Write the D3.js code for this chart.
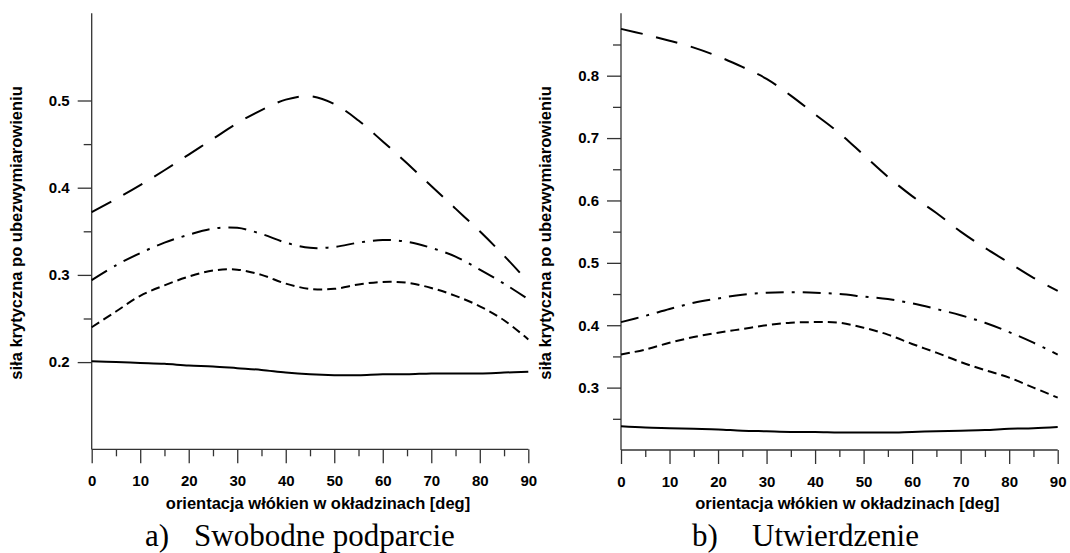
<!DOCTYPE html>
<html>
<head>
<meta charset="utf-8">
<script src="https://cdn.jsdelivr.net/npm/d3@7"></script>
<style>
  body { margin: 0; background: #fff; }
  text { font-family: "Liberation Sans", Arial, sans-serif; font-weight: bold; fill: #000; }
  .title { font-family: "Liberation Serif", "Times New Roman", serif; font-weight: normal; }
</style>
</head>
<body>
<svg id="chart" width="1070" height="553"></svg>
<script>
// fibre orientation [deg]
var angles = [0, 5, 10, 15, 20, 25, 30, 35, 40, 45, 50, 55, 60, 65, 70, 75, 80, 85, 90];

// a) Swobodne podparcie
var freeLong    = [0.372, 0.387, 0.403, 0.420, 0.438, 0.456, 0.474, 0.489, 0.501, 0.505, 0.496, 0.477, 0.453, 0.428, 0.402, 0.376, 0.350, 0.322, 0.292];
var freeDashDot = [0.294, 0.311, 0.325, 0.337, 0.346, 0.353, 0.354, 0.347, 0.337, 0.331, 0.332, 0.337, 0.340, 0.338, 0.331, 0.321, 0.306, 0.290, 0.272];
var freeShort   = [0.240, 0.258, 0.276, 0.288, 0.298, 0.305, 0.306, 0.300, 0.290, 0.284, 0.284, 0.289, 0.292, 0.291, 0.285, 0.276, 0.264, 0.248, 0.226];
var freeSolid   = [0.201, 0.200, 0.199, 0.198, 0.196, 0.195, 0.193, 0.191, 0.188, 0.186, 0.185, 0.185, 0.186, 0.186, 0.187, 0.187, 0.187, 0.188, 0.189];

// b) Utwierdzenie
var fixLong    = [0.875, 0.866, 0.856, 0.845, 0.831, 0.814, 0.795, 0.768, 0.738, 0.708, 0.673, 0.638, 0.607, 0.580, 0.550, 0.524, 0.500, 0.476, 0.455];
var fixDashDot = [0.405, 0.415, 0.426, 0.436, 0.443, 0.449, 0.452, 0.453, 0.452, 0.450, 0.446, 0.442, 0.435, 0.426, 0.416, 0.404, 0.389, 0.372, 0.353];
var fixShort   = [0.353, 0.361, 0.372, 0.381, 0.388, 0.394, 0.400, 0.404, 0.405, 0.404, 0.396, 0.385, 0.370, 0.356, 0.341, 0.328, 0.316, 0.300, 0.284];
var fixSolid   = [0.238, 0.236, 0.235, 0.234, 0.233, 0.231, 0.230, 0.229, 0.229, 0.228, 0.228, 0.228, 0.229, 0.230, 0.231, 0.232, 0.234, 0.235, 0.237];

var xMajor = [0, 10, 20, 30, 40, 50, 60, 70, 80, 90];
var xMinor = [5, 15, 25, 35, 45, 55, 65, 75, 85];
var freeYMajor = [0.2, 0.3, 0.4, 0.5];
var freeYMinor = [0.25, 0.35, 0.45];
var fixYMajor = [0.3, 0.4, 0.5, 0.6, 0.7, 0.8];
var fixYMinor = [0.25, 0.35, 0.45, 0.55, 0.65, 0.75, 0.85];

var xTitle = "orientacja włókien w okładzinach [deg]";
var yTitle = "siła krytyczna po ubezwymiarowieniu";

var dashLong = "22,14", dashShort = "9,5", dashDot = "18,8,3,8";

var svg = d3.select("#chart");

function drawPanel(p) {
  var x = d3.scaleLinear().domain([0, 90]).range([p.left, p.right]);
  var y = d3.scaleLinear().domain(p.yDomain).range([p.bottom, p.top]);
  var g = svg.append("g");

  // tick marks
  var gx = g.append("g").attr("transform", "translate(0," + p.bottom + ")")
    .call(d3.axisBottom(x).tickValues(xMajor).tickSize(14).tickPadding(12).tickFormat(d3.format("d")));
  gx.select(".domain").remove();
  var gxm = g.append("g").attr("transform", "translate(0," + p.bottom + ")")
    .call(d3.axisBottom(x).tickValues(xMinor).tickSize(7).tickFormat(""));
  gxm.select(".domain").remove();

  var gy = g.append("g").attr("transform", "translate(" + p.left + ",0)")
    .call(d3.axisLeft(y).tickValues(p.yMajor).tickSize(14).tickPadding(8).tickFormat(d3.format(".1f")));
  gy.select(".domain").remove();
  var gym = g.append("g").attr("transform", "translate(" + p.left + ",0)")
    .call(d3.axisLeft(y).tickValues(p.yMinor).tickSize(8).tickFormat(""));
  gym.select(".domain").remove();

  g.selectAll(".tick line").attr("stroke", "#333").attr("stroke-width", 1.3);
  g.selectAll(".tick text").attr("font-size", 15).attr("fill", "#000")
    .attr("font-family", "Liberation Sans, Arial, sans-serif").attr("font-weight", "bold");

  // axis lines
  g.append("line").attr("x1", p.left).attr("x2", p.left).attr("y1", p.top).attr("y2", p.bottom)
    .attr("stroke", "#333").attr("stroke-width", 1.3);
  g.append("line").attr("x1", p.left).attr("x2", p.right).attr("y1", p.bottom).attr("y2", p.bottom)
    .attr("stroke", "#333").attr("stroke-width", 1.3);

  // curves
  var line = d3.line()
    .x(function (d) { return x(d[0]); })
    .y(function (d) { return y(d[1]); })
    .curve(d3.curveCatmullRom.alpha(0.5));

  p.series.forEach(function (s) {
    g.append("path")
      .datum(angles.map(function (a, i) { return [a, s.values[i]]; }))
      .attr("d", line)
      .attr("fill", "none")
      .attr("stroke", "#000")
      .attr("stroke-width", 2)
      .attr("stroke-dasharray", s.dash);
  });

  // axis titles
  g.append("text").attr("x", (p.left + p.right) / 2 + 8).attr("y", 509)
    .attr("text-anchor", "middle").attr("font-size", 16.5).text(xTitle);
  g.append("text").attr("transform", "translate(" + p.yTitleX + ",233) rotate(-90)")
    .attr("text-anchor", "middle").attr("font-size", 16.5).text(yTitle);

  // caption
  g.append("text").attr("class", "title").attr("x", p.capX).attr("y", 546)
    .attr("font-size", 31).text(p.capLetter);
  g.append("text").attr("class", "title").attr("x", p.capTextX).attr("y", 546)
    .attr("font-size", 31).text(p.caption);
}

drawPanel({
  left: 91.7, right: 528.3, top: 13.3, bottom: 449.3,
  yDomain: [0.1, 0.6], yMajor: freeYMajor, yMinor: freeYMinor,
  yTitleX: 22,
  capX: 145, capTextX: 194, capLetter: "a)", caption: "Swobodne podparcie",
  series: [
    { values: freeLong, dash: dashLong },
    { values: freeDashDot, dash: dashDot },
    { values: freeShort, dash: dashShort },
    { values: freeSolid, dash: null }
  ]
});

drawPanel({
  left: 621, right: 1057.7, top: 13.3, bottom: 450,
  yDomain: [0.2, 0.9], yMajor: fixYMajor, yMinor: fixYMinor,
  yTitleX: 551,
  capX: 692, capTextX: 752, capLetter: "b)", caption: "Utwierdzenie",
  series: [
    { values: fixLong, dash: dashLong },
    { values: fixDashDot, dash: dashDot },
    { values: fixShort, dash: dashShort },
    { values: fixSolid, dash: null }
  ]
});
</script>
</body>
</html>
